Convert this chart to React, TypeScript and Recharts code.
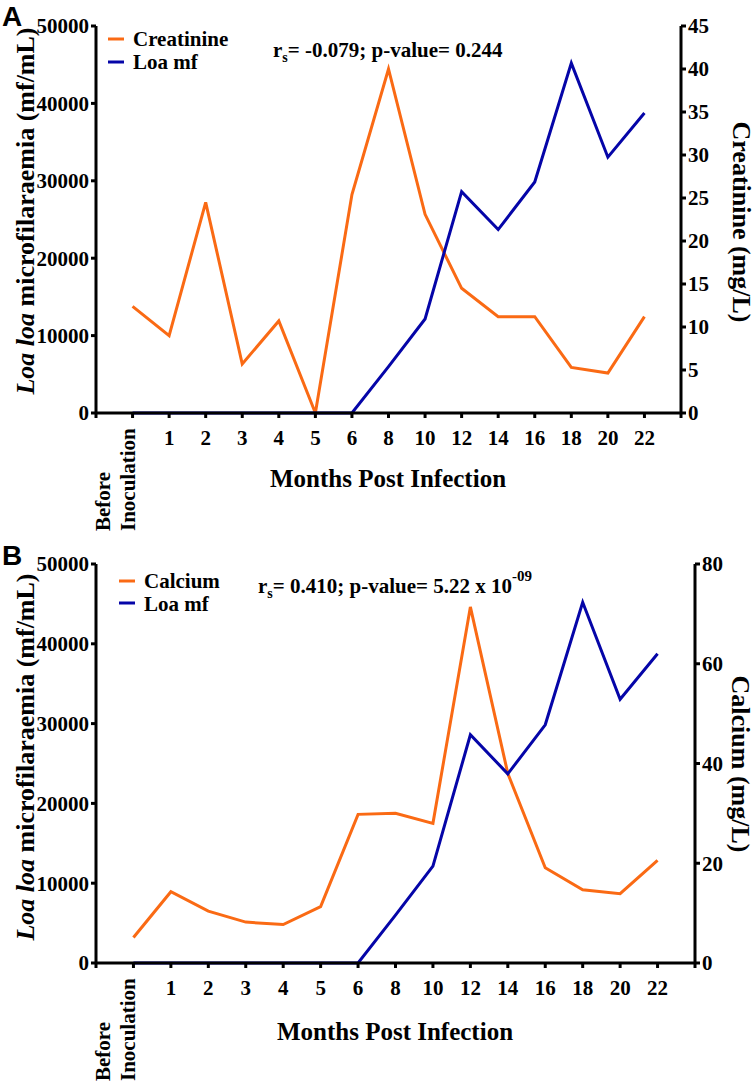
import React from 'react';
import { LineChart, Line, XAxis, YAxis, Customized } from 'recharts';

const categories = ['Before Inoculation', '1', '2', '3', '4', '5', '6', '8', '10', '12', '14', '16', '18', '20', '22'];
const loaMf = [0, 0, 0, 0, 0, 0, 0, 6000, 12150, 28600, 23700, 29850, 45200, 33050, 38750];
const creatinine = [12.4, 9.0, 24.5, 5.7, 10.7, 0, 25.4, 40.0, 23.1, 14.5, 11.2, 11.2, 5.3, 4.65, 11.2];
const calcium = [5.1, 14.3, 10.4, 8.2, 7.7, 11.3, 29.8, 30.0, 28.0, 71.4, 38.0, 19.1, 14.7, 13.9, 20.6];

const leftTicks = [0, 10000, 20000, 30000, 40000, 50000];
const creatinineTicks = [0, 5, 10, 15, 20, 25, 30, 35, 40, 45];
const calciumTicks = [0, 20, 40, 60, 80];
const xTicks = [0, 1, 2, 3, 4, 5, 6, 7, 8, 9, 10, 11, 12, 13, 14, 15, 16];

const ORANGE = '#FA6A14';
const BLUE = '#0505A8';
const SERIF = "'Liberation Serif', 'Times New Roman', serif";
const SANS = "'Liberation Sans', Arial, sans-serif";

const dataA = categories.map((c, i) => ({ x: i + 1, label: c, loa: loaMf[i], val: creatinine[i] }));
const dataB = categories.map((c, i) => ({ x: i + 1, label: c, loa: loaMf[i], val: calcium[i] }));

const tickStyle = { fontSize: 21, fontWeight: 'bold', fill: '#000', fontFamily: SERIF };

function XTick(props: any) {
  const { x, y, payload } = props;
  const v = payload.value;
  if (v < 1 || v > categories.length) return <g />;
  const label = categories[v - 1];
  if (v === 1) {
    const parts = label.split(' ');
    return (
      <g fontFamily={SERIF} fontWeight="bold" fontSize={21} fill="#000">
        <text transform={`translate(${x - 23},${y + 113}) rotate(-90)`} textAnchor="start">{parts[0]}</text>
        <text transform={`translate(${x + 2},${y + 113}) rotate(-90)`} textAnchor="start">{parts[1]}</text>
      </g>
    );
  }
  return (
    <text x={x} y={y + 27} textAnchor="middle" fontFamily={SERIF} fontWeight="bold" fontSize={21} fill="#000">
      {label}
    </text>
  );
}

function OverlayA() {
  return (
    <g fontFamily={SERIF} fontWeight="bold" fill="#000">
      <text x={2} y={26} fontFamily={SANS} fontWeight="bold" fontSize={28}>A</text>
      <line x1={108} x2={124} y1={39} y2={39} stroke={ORANGE} strokeWidth={3} />
      <text x={133} y={46} fontSize={21}>Creatinine</text>
      <line x1={108} x2={124} y1={62} y2={62} stroke={BLUE} strokeWidth={3} />
      <text x={133} y={69} fontSize={21}>Loa mf</text>
      <text x={273} y={57} fontSize={21}>
        r<tspan fontSize={14} dy={5}>s</tspan><tspan dy={-5}>= -0.079; p-value= 0.244</tspan>
      </text>
      <text transform="translate(34,211) rotate(-90)" textAnchor="middle" fontSize={26}>
        <tspan fontStyle="italic">Loa loa</tspan> microfilaraemia (mf/mL)
      </text>
      <text transform="translate(733,222) rotate(90)" textAnchor="middle" fontSize={26}>Creatinine (mg/L)</text>
      <text x={388} y={487} textAnchor="middle" fontSize={25}>Months Post Infection</text>
    </g>
  );
}

function OverlayB() {
  return (
    <g fontFamily={SERIF} fontWeight="bold" fill="#000">
      <text x={2} y={25} fontFamily={SANS} fontWeight="bold" fontSize={28}>B</text>
      <line x1={119} x2={135} y1={41} y2={41} stroke={ORANGE} strokeWidth={3} />
      <text x={144} y={48} fontSize={21}>Calcium</text>
      <line x1={119} x2={135} y1={63} y2={63} stroke={BLUE} strokeWidth={3} />
      <text x={144} y={71} fontSize={21}>Loa mf</text>
      <text x={258} y={53} fontSize={21}>
        r<tspan fontSize={14} dy={5}>s</tspan><tspan dy={-5}>= 0.410; p-value= 5.22 x 10</tspan><tspan fontSize={15} dy={-12}>-09</tspan>
      </text>
      <text transform="translate(34,217) rotate(-90)" textAnchor="middle" fontSize={26}>
        <tspan fontStyle="italic">Loa loa</tspan> microfilaraemia (mf/mL)
      </text>
      <text transform="translate(732,224) rotate(90)" textAnchor="middle" fontSize={26}>Calcium (mg/L)</text>
      <text x={395} y={500} textAnchor="middle" fontSize={25}>Months Post Infection</text>
    </g>
  );
}

const axisLine = { stroke: '#000', strokeWidth: 3 };
const tickLine = { stroke: '#000', strokeWidth: 3 };

function Panel(props: { data: any[]; height: number; margin: any; rightTicks: number[]; rightMax: number; overlay: any }) {
  const { data, height, margin, rightTicks, rightMax, overlay } = props;
  return (
    <LineChart width={756} height={height} data={data} margin={margin}>
      <XAxis
        type="number"
        dataKey="x"
        domain={[0, 16]}
        ticks={xTicks}
        interval={0}
        height={80}
        axisLine={axisLine}
        tickLine={tickLine}
        tickSize={5}
        tickMargin={0}
        tick={<XTick />}
      />
      <YAxis
        yAxisId="left"
        orientation="left"
        domain={[0, 50000]}
        ticks={leftTicks}
        interval={0}
        width={60}
        axisLine={axisLine}
        tickLine={tickLine}
        tickSize={5}
        tickMargin={2}
        tick={tickStyle}
      />
      <YAxis
        yAxisId="right"
        orientation="right"
        domain={[0, rightMax]}
        ticks={rightTicks}
        interval={0}
        width={40}
        axisLine={axisLine}
        tickLine={tickLine}
        tickSize={5}
        tickMargin={2}
        tick={tickStyle}
      />
      <Line yAxisId="right" type="linear" dataKey="val" stroke={ORANGE} strokeWidth={3} dot={false} isAnimationActive={false} />
      <Line yAxisId="left" type="linear" dataKey="loa" stroke={BLUE} strokeWidth={3} dot={false} isAnimationActive={false} />
      <Customized component={overlay} />
    </LineChart>
  );
}

export default function App() {
  return (
    <div style={{ position: 'absolute', left: 0, top: 0, width: 756, height: 1088, background: '#fff' }}>
      <div style={{ position: 'absolute', left: 0, top: 0 }}>
        <Panel
          data={dataA}
          height={540}
          margin={{ top: 26, right: 35, bottom: 47, left: 36 }}
          rightTicks={creatinineTicks}
          rightMax={45}
          overlay={OverlayA}
        />
      </div>
      <div style={{ position: 'absolute', left: 0, top: 540 }}>
        <Panel
          data={dataB}
          height={548}
          margin={{ top: 24, right: 21, bottom: 45, left: 36 }}
          rightTicks={calciumTicks}
          rightMax={80}
          overlay={OverlayB}
        />
      </div>
    </div>
  );
}
